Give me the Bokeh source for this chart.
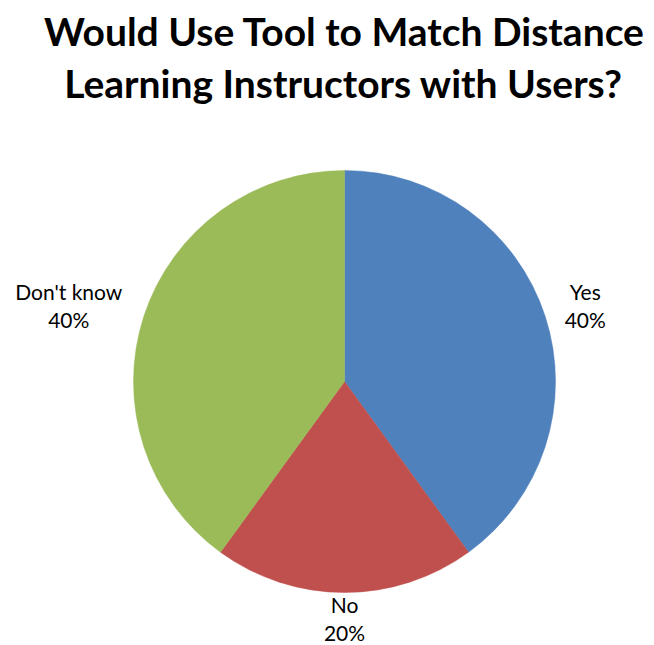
import math
from bokeh.plotting import figure
from bokeh.models import Range1d, ColumnDataSource
from bokeh.core.properties import value
from bokeh.embed import file_html
from bokeh.resources import INLINE

# ---- data ----
categories = ["Yes", "No", "Don't know"]
percents = [40, 20, 40]
colors = ["#4F81BD", "#C0504D", "#9BBB59"]
title_lines = ["Would Use Tool to Match Distance", "Learning Instructors with Users?"]

# ---- layout (page pixel coordinates; y measured downward, negated for bokeh) ----
W, H = 654, 645
cx, cy, R = 344, 381, 211
label_gap = 1.10                 # anchor radius factor
label_half_w = [20, 18, 55]      # approximate half-widths of label blocks
font = "Lato"

p = figure(width=W, height=H, output_backend="svg", toolbar_location=None,
           x_range=Range1d(0, W), y_range=Range1d(-H, 0),
           min_border=0, outline_line_color=None)
p.axis.visible = False
p.grid.visible = False
p.background_fill_color = "white"
p.border_fill_color = "white"

total = sum(percents)
starts, ends, lx, ly, ltext = [], [], [], [], []
cum = 0.0
for i, (cat, v) in enumerate(zip(categories, percents)):
    f0 = cum / total
    cum += v
    f1 = cum / total
    starts.append(math.pi / 2 - 2 * math.pi * f0)
    ends.append(math.pi / 2 - 2 * math.pi * f1)
    mid = (f0 + f1) / 2 * 2 * math.pi
    dx, dy = math.sin(mid), math.cos(mid)
    ax = cx + dx * R * label_gap
    ay = cy - dy * R * label_gap
    if abs(dx) > 0.5:
        ax += label_half_w[i] * (1 if dx > 0 else -1)
        ay -= 4
    else:
        ay += 5
    lx.append(ax)
    ly.append(-ay)
    ltext.append(f"{cat}\n{v}%")

src = ColumnDataSource(dict(start=starts, end=ends, color=colors))
p.wedge(x=cx, y=-cy, radius=R, start_angle="start", end_angle="end",
        direction="clock", fill_color="color", line_color="color", line_width=0.5,
        source=src)

p.text(x=lx, y=ly, text=ltext, text_font=value(font), text_font_size="21px",
       text_align="center", text_baseline="middle", text_color="black",
       text_line_height=1.13)

p.text(x=[344, 343], y=[-30, -82], text=title_lines, text_font=value(font),
       text_font_style="bold", text_font_size="39px", text_align="center",
       text_baseline="alphabetic", text_color="black")

open("out.html", "w").write(file_html(p, INLINE))
